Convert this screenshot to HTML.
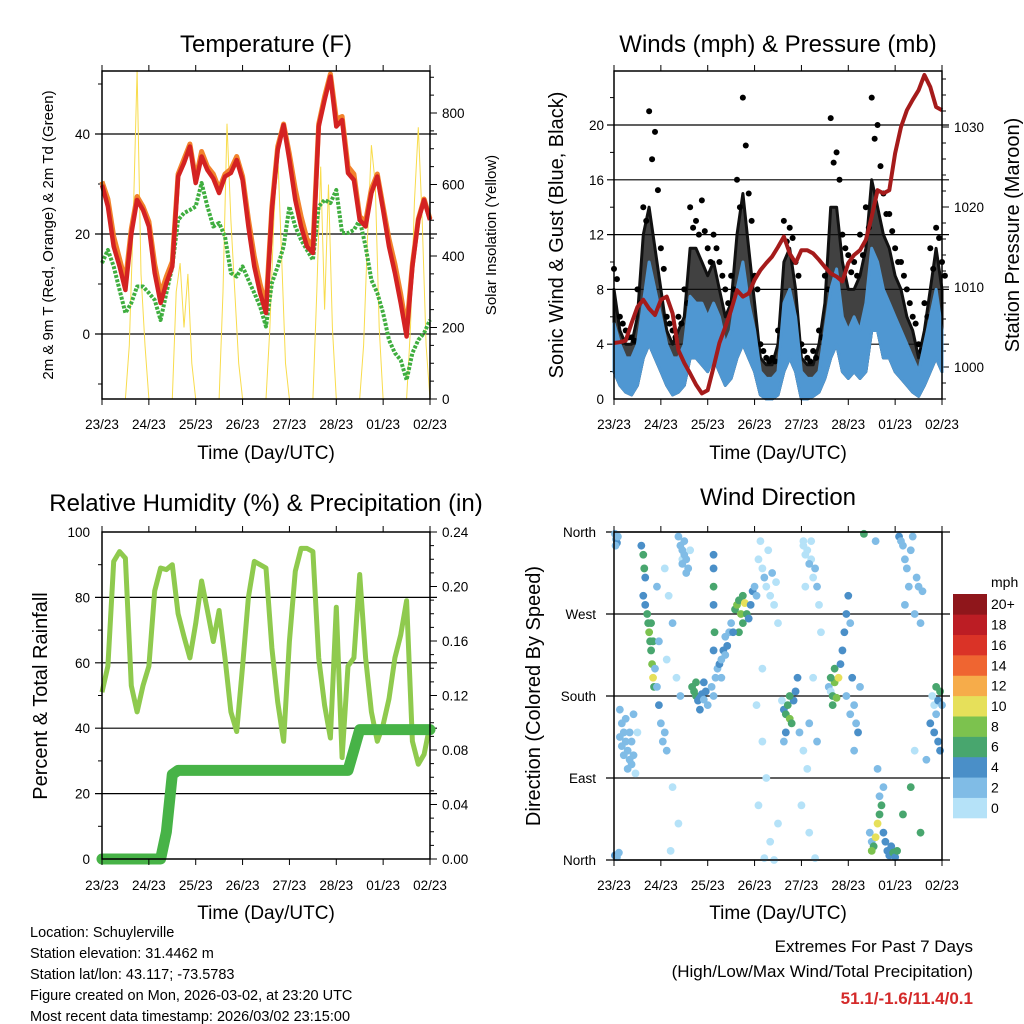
<!DOCTYPE html>
<html><head><meta charset="utf-8"><style>
body{margin:0;background:#fff;}
svg{display:block;font-family:"Liberation Sans",sans-serif;}
</style></head><body>
<svg id="chart" width="1024" height="1024" viewBox="0 0 1024 1024" xmlns="http://www.w3.org/2000/svg">
<rect x="0" y="0" width="1024" height="1024" fill="#fff"/>
<g id="g-temp"></g>
<g id="g-wind"></g>
<g id="g-rh"></g>
<g id="g-dir"></g>
<text x="266" y="52" font-size="24" text-anchor="middle">Temperature (F)</text>
<text x="778" y="52" font-size="24" text-anchor="middle">Winds (mph) &amp; Pressure (mb)</text>
<text x="266" y="511" font-size="24" text-anchor="middle">Relative Humidity (%) &amp; Precipitation (in)</text>
<text x="778" y="505" font-size="24" text-anchor="middle">Wind Direction</text>
<text x="266" y="459" font-size="19" text-anchor="middle">Time (Day/UTC)</text>
<text x="778" y="459" font-size="19" text-anchor="middle">Time (Day/UTC)</text>
<text x="266" y="919" font-size="19" text-anchor="middle">Time (Day/UTC)</text>
<text x="778" y="919" font-size="19" text-anchor="middle">Time (Day/UTC)</text>
<text transform="translate(53,235) rotate(-90)" font-size="15" text-anchor="middle">2m &amp; 9m T (Red, Orange) &amp; 2m Td (Green)</text>
<text transform="translate(496,235) rotate(-90)" font-size="15" text-anchor="middle">Solar Insolation (Yellow)</text>
<text transform="translate(563,235) rotate(-90)" font-size="20" text-anchor="middle">Sonic Wind &amp; Gust (Blue, Black)</text>
<text transform="translate(1019,235) rotate(-90)" font-size="20" text-anchor="middle">Station Pressure (Maroon)</text>
<text transform="translate(47,696) rotate(-90)" font-size="20" text-anchor="middle">Percent &amp; Total Rainfall</text>
<text transform="translate(540,696) rotate(-90)" font-size="20" text-anchor="middle">Direction (Colored By Speed)</text>
<g font-size="14.5">
<text x="30" y="937">Location: Schuylerville</text>
<text x="30" y="958">Station elevation: 31.4462 m</text>
<text x="30" y="979">Station lat/lon: 43.117; -73.5783</text>
<text x="30" y="1000">Figure created on Mon, 2026-03-02, at 23:20 UTC</text>
<text x="30" y="1021">Most recent data timestamp: 2026/03/02 23:15:00</text>
</g>
<g text-anchor="end">
<text x="973" y="952" font-size="17">Extremes For Past 7 Days</text>
<text x="973" y="977" font-size="17">(High/Low/Max Wind/Total Precipitation)</text>
<text x="973" y="1004" font-size="17" font-weight="bold" fill="#d42a2a">51.1/-1.6/11.4/0.1</text>
</g>
</svg>
<script>
// ---- data (3-hour steps, t = 0..168 h) ----
const dayLabels = ["23/23","24/23","25/23","26/23","27/23","28/23","01/23","02/23"];
const temp2m = [29.8,25.5,17.5,13.5,8.8,20,26.8,24.8,21.5,12.2,6.2,10.2,13.5,31.5,34.2,37.5,30.2,35.5,32.8,31.1,28.2,31.5,32.2,34.8,30.8,21.5,13.5,8.2,4.2,24.8,36.8,41.8,34.8,26.8,21.5,17.5,16.2,41.5,46.8,51.5,41.5,42.8,32.2,30.8,22.8,21.5,28.2,31.5,24.8,17.5,12.2,6.2,-0.5,13.5,22.8,26.8,22.8];
const temp9m = [30.5,27,19.5,15,10.5,21,27.5,25.5,22.5,14,8,11.5,14.5,32,35,38,31,36.5,33.5,32,29,32,33,35.5,31.5,23,15.5,10,5.5,25.5,37.5,42,36,29,23.5,19,17.5,42,47.5,52,43,43.5,33.5,32,23.5,22.5,29,32,25.5,19,14,8,1,14,23,27,23];
const dewpt = [14.2,16.8,13.5,8.8,4.2,6.2,9.5,9.5,8.2,6.8,2.8,8.2,13.5,22.8,24.2,24.8,25.5,30.2,25.5,21.5,22.2,19.5,12.2,11.5,13.5,10.8,8.2,5.5,1.5,10.2,13.5,17.5,25.5,21.5,18.8,16.8,14.8,25.5,26.8,26.2,28.8,20.2,20.2,20.8,22.8,17.5,10.8,8.2,4.2,-1.2,-3.8,-5.2,-9.2,-3.8,-1.2,0.2,2.8];
// solar insolation, 2-hour steps
const solar = [0,0,0,0,0,0, 0,150,500,920,350,150, 0,0,0,0,0,0, 0,300,380,200,350,100, 0,0,0,0,0,0, 0,300,770,500,300,100, 0,0,0,0,0,0, 0,200,500,690,400,100, 0,0,0,0,0,0, 0,300,650,250,600,200, 0,0,0,0,0,0, 0,150,450,710,600,200, 0,0,0,0,0,0, 0,200,550,760,500,150, 0];
const windLo = [2,1,0.5,0.3,1,3,4,3,2,1,0.3,0.5,1,3,3,2.5,2,3,2,1,1.5,3,4,3,2,0.3,0,0,0.3,2,3,2,0,0,0.2,0.5,1.5,3,4,2,1.5,2,1.5,2,5,5,3,3,2,1.5,1,0.5,0.2,1,2,3,2];
const windHi = [5.5,4,3,3,4,7,10,8,6,4,3,3,4,7.5,7,7,6,7,6,4,5,8,10,7,5,2,1.5,1.5,2,7,8,6,2,1.5,1.5,2,5,8,9.5,6,5,6,5,7,11,10,8,7,6,5,4,3,2,4,6,8,5];
const gustTop = [8,5,4,4,6,12,14,11,8,5,4,5,6,11,11,10,9,10,8,6,7,12,15,11,7,3,2.5,2.5,4,10,11,8,3,2.5,2.5,4,7,14,14,10,8,8,9,11,16,14,12,11,9,8,6,5,3,5,8,11,8];
const gustPeak = [9.5,6,5,4.5,8,14,21,19.5,11,6,5,6,8,14,13,14.5,11,12,10,8,9,16,22,15,9,4,3,3,5,13,12.5,10,4,3,3.5,5,9,20.5,18,12,10.5,10,12,14,22,20,15,13.5,11,10,8,6,4,7,11,12.5,10];
const pressure = [1003,1003.1,1003.3,1005.5,1007.5,1008.4,1007.3,1006.5,1008.4,1008.8,1006.7,1002.1,1000.5,999.2,997.8,996.7,997.1,1000,1003,1005,1007.1,1009.6,1008.8,1009.2,1010.9,1012.1,1013,1013.8,1015,1016.3,1014.2,1013,1014.6,1014.6,1014.2,1013.4,1012.5,1011.7,1011.3,1010.7,1013,1014,1014.6,1015.9,1018.8,1022.1,1021.7,1022.1,1026.7,1030,1032.1,1033.4,1034.6,1036.5,1035,1032.5,1032.1];
const relHum = [51,59,91,94,92,53,45,53,59,82,89,88.5,90,75,68,61.5,72,85,76,66.5,76,61.5,45,39,59,80,91,90,89,64.5,48,36,66.5,88,95,95,94,61.5,47,37,77,31,59,61.5,87,61.5,45,36,41,49,61.5,68.5,79,36,29,32,41];
const precip = [0,0,0,0,0,0,0,0,0,0,0,0.02,0.062,0.065,0.065,0.065,0.065,0.065,0.065,0.065,0.065,0.065,0.065,0.065,0.065,0.065,0.065,0.065,0.065,0.065,0.065,0.065,0.065,0.065,0.065,0.065,0.065,0.065,0.065,0.065,0.065,0.065,0.065,0.08,0.095,0.095,0.095,0.095,0.095,0.095,0.095,0.095,0.095,0.095,0.095,0.095,0.095];
// wind direction observations: hour, direction (deg), speed (mph)
const dirHour = [0.5,1,1.5,0.8,2,0.5,1.5,2.5,3,4,5,6,7,8,9,10,4,6,8,3,5,7,9,10,11,12,14,15,15.5,16,15,16,17,17.5,18,18.5,19,19.5,20,20.5,19,20,21,22,23,24,25,23,22,26,27,26,28,30,27,32,34,30,33,29,35,33,34,35,36,37,38,35,36,37,39,40,41,42,43,44,45,46,47,48,42,44,50,51,52,46,51,51,51,51.5,51,51,53,54,55,56,57,58,59,55,57,60,62,63,64,65,66,66,67,68,69,70,71,64,61,72,74,76,77,78,80,82,79,75,81,83,84,73,73,76,78,74,80,82,77,84,76,86,87,88,89,90,91,92,90,88,93,94,87,95,97,99,100,102,104,96,100,103,98,101,97,99,103,105,106,97,98,100,102,104,101,110,111,112,113,114,112,115,111,113,116,117,118,119,120,121,122,123,124,125,126,119,121,123,131,132,133,132,134,135,136,137,138,139,140,141,142,143,144,138,136,145,146,147,148,149,150,152,153,155,156,158,151,154,157,149,163,164,165,166,167,165,164,166,167,162,168,128,134,135,148,152,157,160,154];
const dirDeg = [358,352,348,345,355,5,3,8,165,150,140,130,120,110,105,160,125,155,140,135,115,100,130,115,95,140,345,335,320,310,290,280,270,260,250,240,230,215,200,190,260,240,210,190,170,150,130,240,300,140,120,320,290,260,220,200,180,80,40,10,330,355,345,340,335,330,320,325,350,315,340,190,185,180,175,178,182,176,185,170,195,165,190,180,200,195,335,300,280,250,230,320,210,215,220,230,225,235,250,200,245,260,275,280,285,270,260,290,282,270,265,280,295,250,250,300,330,320,310,300,290,280,340,350,315,305,260,290,170,130,90,60,20,0,2,40,210,175,165,160,170,155,150,175,180,140,185,200,130,140,120,100,150,200,130,60,30,2,300,330,350,340,320,280,250,345,335,325,310,300,350,190,185,180,195,178,170,200,200,210,215,230,250,270,290,260,200,170,150,140,190,180,160,120,30,20,15,10,25,40,50,60,30,20,10,5,15,8,3,80,70,10,355,350,345,330,320,340,355,310,300,295,300,270,260,280,180,170,160,175,185,190,140,130,120,150,170,358,350,100,50,80,30,110,120];
const dirSpd = [3,3,4,3,2,4,3,2,2,2,3,2,3,2,2,2,3,2,2,2,2,3,2,2,1,1,4,6,6,4,4,5,6,7,8,7,7,8,10,7,6,7,3,3,4,3,2,2,2,2,2,1,1,2,1,1,2,1,1,1,1,2,3,2,3,2,3,2,2,2,1,6,7,6,5,4,4,3,4,3,6,4,3,3,2,4,4,6,5,6,4,4,3,4,3,4,3,4,3,2,3,3,7,8,7,8,7,6,10,6,5,4,4,6,4,2,1,1,2,1,1,1,1,1,2,1,1,2,1,1,1,1,1,1,1,1,1,1,5,6,7,8,6,5,6,4,4,4,3,3,1,1,2,1,2,1,1,1,1,1,1,1,2,1,1,1,1,2,1,2,1,2,1,7,8,8,6,10,6,6,5,4,4,4,4,3,4,3,3,4,3,2,2,3,2,3,6,8,10,10,7,6,5,4,4,5,5,6,4,3,3,6,4,2,3,3,2,2,2,3,2,2,3,2,2,2,1,1,2,5,6,6,5,4,4,4,3,6,3,3,6,6,6,2,1,1,2,1];
const speedBins = ["0","2","4","6","8","10","12","14","16","18","20+"];
const binColors = ["#b5e2f8","#80bce6","#4a8fc8","#48a66e","#7cc24e","#e6e05a","#f6ac4a","#ef6531","#da3327","#bc1d24","#8f161b"];

const NS="http://www.w3.org/2000/svg";
function mk(parent, tag, attrs){const e=document.createElementNS(NS,tag);for(const k in attrs)e.setAttribute(k,attrs[k]);parent.appendChild(e);return e;}
function txt(parent,x,y,s,size,anchor){const e=mk(parent,'text',{x:x,y:y,'font-size':size,'text-anchor':anchor||'middle'});e.textContent=s;return e;}
function pts(arr,xf,yf,step){return arr.map((v,i)=>xf(i*step).toFixed(1)+','+yf(v).toFixed(1)).join(' ');}

function frame(g,x0,x1,y0,y1,labelY){
  const r=mk(g,'rect',{x:x0,y:y0,width:x1-x0,height:y1-y0,fill:'none',stroke:'#000','stroke-width':1.5});
  
  
  for(let d=0;d<dayLabels.length;d++){
    const x=x0+d*(x1-x0)/7;
    mk(g,'line',{x1:x,y1:y1,x2:x,y2:y1+6,stroke:'#000','stroke-width':1});
    mk(g,'line',{x1:x,y1:y0,x2:x,y2:y0-6,stroke:'#000','stroke-width':1});
    const t=txt(g,x,labelY,dayLabels[d],13.5);
    
    
  }
}
function grid(g,x0,x1,y,ext){mk(g,'line',{x1:x0-ext,y1:y,x2:x1+ext,y2:y,stroke:'#000','stroke-width':1.2});}

// ---------- Temperature ----------
(function(){
  const g=document.getElementById('g-temp');
  const x0=102,x1=430,y0=71,y1=399;
  const xT=h=>x0+h*(x1-x0)/168, yT=v=>334-5*v, yS=w=>399-w*0.3575;
  [0,20,40].forEach(v=>{grid(g,x0,x1,yT(v),7);const t=txt(g,x0-12,yT(v)+5,String(v),13.5,'end');});
  [-10,10,30,50].forEach(v=>mk(g,'line',{x1:x0-4,y1:yT(v),x2:x0,y2:yT(v),stroke:'#000'}));
  for(let w=0;w<=900;w+=50){mk(g,'line',{x1:x1,y1:yS(w),x2:x1+(w%200==0?7:4),y2:yS(w),stroke:'#000'});}
  [0,200,400,600,800].forEach(w=>{const t=txt(g,x1+12,yS(w)+5,String(w),13.5,'start');});
  const ys=mk(g,'polyline',{points:pts(solar,xT,yS,2),fill:'none',stroke:'#f8dc4c','stroke-width':1});
  
  
  const gd=mk(g,'polyline',{points:pts(dewpt,xT,yT,3),fill:'none',stroke:'#3fae3f','stroke-width':4,'stroke-dasharray':'3 1.5','stroke-linejoin':'round'});
  
  
  const o=mk(g,'polyline',{points:pts(temp9m,xT,yT,3),fill:'none',stroke:'#f2832c','stroke-width':5,'stroke-linejoin':'round'});
  
  
  const r=mk(g,'polyline',{points:pts(temp2m,xT,yT,3),fill:'none',stroke:'#d42222','stroke-width':4.5,'stroke-linejoin':'round'});
  
  
  frame(g,x0,x1,y0,y1,429);
})();

// ---------- Wind & Pressure ----------
(function(){
  const g=document.getElementById('g-wind');
  const x0=614,x1=942,y0=71,y1=399;
  const xT=h=>x0+h*(x1-x0)/168, yW=v=>399-v*13.7, yP=p=>367-(p-1000)*8;
  [4,8,12,16,20].forEach(v=>grid(g,x0,x1,yW(v),7));
  [0,4,8,12,16,20].forEach(v=>{const t=txt(g,x0-10,yW(v)+5,String(v),13.5,'end');});
  for(let v=2;v<24;v+=4)mk(g,'line',{x1:x0-4,y1:yW(v),x2:x0,y2:yW(v),stroke:'#000'});
  for(let p=996;p<=1036;p+=2){mk(g,'line',{x1:x1,y1:yP(p),x2:x1+(p%10==0?7:4),y2:yP(p),stroke:'#000'});}
  [1000,1010,1020,1030].forEach(p=>{const t=txt(g,x1+12,yP(p)+5,String(p),13.5,'start');});
  const up=gustTop.map((v,i)=>xT(i*3).toFixed(1)+','+yW(v).toFixed(1));
  const dn=windLo.map((v,i)=>xT(i*3).toFixed(1)+','+yW(v).toFixed(1)).reverse();
  const gc=mk(g,'polygon',{points:up.concat(dn).join(' '),fill:'#111','fill-opacity':0.8,stroke:'#111','stroke-width':3,'stroke-linejoin':'round'});
  
  
  gustPeak.forEach((v,i)=>{
    const c=mk(g,'circle',{cx:xT(i*3),cy:yW(v),r:3,fill:'#000'});
    
    
    const c2=mk(g,'circle',{cx:xT(i*3+1.5),cy:yW((v+gustTop[i])/2),r:3,fill:'#000'});
    
    
  });
  const bu=windHi.map((v,i)=>xT(i*3).toFixed(1)+','+yW(v).toFixed(1));
  const bd=windLo.map((v,i)=>xT(i*3).toFixed(1)+','+yW(v).toFixed(1)).reverse();
  const wb=mk(g,'polygon',{points:bu.concat(bd).join(' '),fill:'#4f97d2',stroke:'#4f97d2','stroke-width':3,'stroke-linejoin':'round'});
  
  
  const pl=mk(g,'polyline',{points:pts(pressure,xT,yP,3),fill:'none',stroke:'#a51b1b','stroke-width':4,'stroke-linejoin':'round'});
  
  
  frame(g,x0,x1,y0,y1,429);
})();

// ---------- RH & precipitation ----------
(function(){
  const g=document.getElementById('g-rh');
  const x0=102,x1=430,y0=532,y1=859;
  const xT=h=>x0+h*(x1-x0)/168, yR=v=>859-v*3.27, yPr=p=>859-p*1362.5;
  [20,40,60,80].forEach(v=>grid(g,x0,x1,yR(v),7));
  [0,20,40,60,80,100].forEach(v=>{const t=txt(g,x0-12,yR(v)+5,String(v),13.5,'end');});
  for(let v=10;v<100;v+=20)mk(g,'line',{x1:x0-4,y1:yR(v),x2:x0,y2:yR(v),stroke:'#000'});
  for(let k=0;k<=24;k++){mk(g,'line',{x1:x1,y1:yPr(k/100),x2:x1+(k%4==0?7:4),y2:yPr(k/100),stroke:'#000'});}
  for(let k=0;k<=24;k+=4){const t=txt(g,x1+12,yPr(k/100)+5,(k/100).toFixed(2),13.5,'start');}
  const rl=mk(g,'polyline',{points:pts(relHum,xT,yR,3),fill:'none',stroke:'#8fca4e','stroke-width':5,'stroke-linejoin':'round'});
  
  
  const pp=mk(g,'polyline',{points:pts(precip,xT,yPr,3),fill:'none',stroke:'#47b347','stroke-width':11,'stroke-linejoin':'round','stroke-linecap':'round'});
  
  
  frame(g,x0,x1,y0,y1,890);
})();

// ---------- Wind direction ----------
(function(){
  const g=document.getElementById('g-dir');
  const x0=614,x1=942,y0=532,y1=860;
  const xT=h=>x0+h*(x1-x0)/168, yD=d=>860-d/360*328;
  const names=[[0,'North'],[90,'East'],[180,'South'],[270,'West'],[360,'North']];
  names.forEach(n=>{grid(g,x0,x1,yD(n[0]),8);
    const t=txt(g,x0-18,yD(n[0])+5,n[1],13.5,'end');});
  dirHour.forEach((h,i)=>{
    const b=Math.min(10,Math.floor(dirSpd[i]/2));
    const c=mk(g,'circle',{cx:xT(h),cy:yD(dirDeg[i]),r:3.9,fill:binColors[b]});
    
    
  });
  frame(g,x0,x1,y0,y1,890);
  const cb=mk(g,'g',{});
  
  
  const bh=224/11;
  speedBins.forEach((s,i)=>{
    const y=818-(i+1)*bh;
    const r=mk(cb,'rect',{x:953,y:y,width:34,height:bh+0.3,fill:binColors[i]});
    
    
    const t=txt(cb,991,y+bh/2+5,s,14,'start');
    
    
  });
  const u=txt(cb,991,587,'mph',14,'start');
  
  
})();
</script>
</body></html>
